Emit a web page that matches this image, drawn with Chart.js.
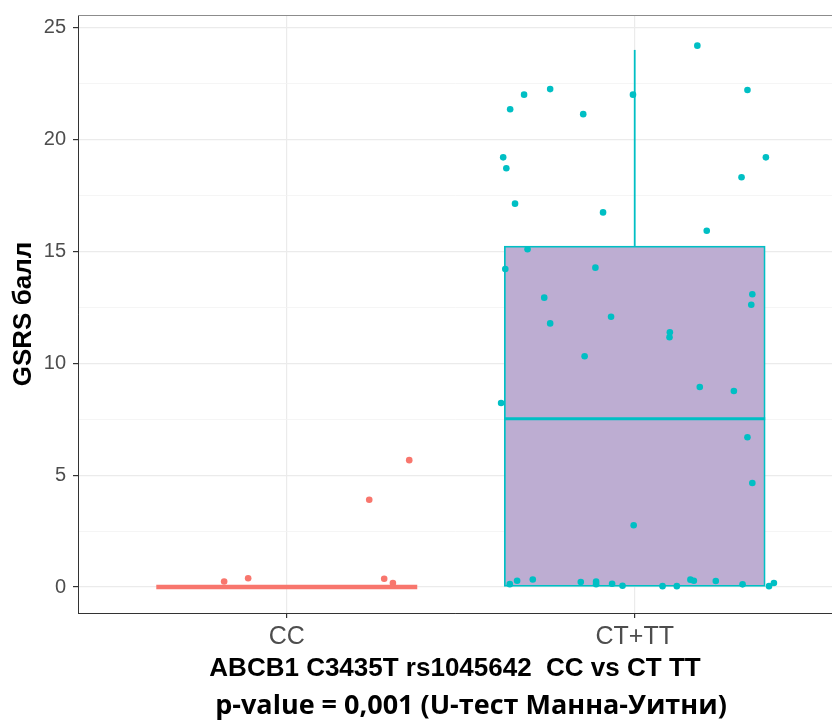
<!DOCTYPE html>
<html>
<head>
<meta charset="utf-8">
<script src="https://cdn.jsdelivr.net/npm/chart.js@4/dist/chart.umd.min.js"></script>
<style>
  html, body { margin: 0; padding: 0; background: #ffffff; overflow: hidden; }
  #wrap { width: 832px; height: 727px; }
</style>
</head>
<body>
<div id="wrap"><canvas id="c" width="832" height="727"></canvas></div>
<script>
// ---- data ----
const CATEGORIES = ['CC', 'CT+TT'];
const Y_TICKS = [0, 2.5, 5, 7.5, 10, 12.5, 15, 17.5, 20, 22.5, 25];
const Y_LABELS = ['0', '', '5', '', '10', '', '15', '', '20', '', '25'];

const Q1 = [0, 0];
const MEDIAN = [0, 7.52];
const Q3 = [0, 15.24];
const WHISKER_HI = [0, 24.0];

// jittered points, CC group
const CC_X = [0.820, 0.889, 1.237, 1.352, 1.280, 1.305];
const CC_Y = [0.25, 0.39, 3.90, 5.67, 0.37, 0.18];

// jittered points, CT+TT group
const CT_X = [2.180, 1.682, 1.757, 1.642, 1.852, 1.995, 2.324, 1.622, 1.631, 2.377,
              2.307, 1.656, 1.909, 2.207, 1.692, 1.628, 1.887, 1.740, 2.338, 2.335,
              1.932, 1.757, 2.101, 2.100, 1.856, 2.187, 2.285, 1.616, 2.324, 2.338,
              1.997, 1.641, 1.662, 1.707, 1.845, 1.889, 1.889, 1.935, 1.965, 2.080,
              2.121, 2.160, 2.170, 2.233, 2.310, 2.386, 2.400];
const CT_Y = [24.19, 22.00, 22.25, 21.35, 21.13, 22.00, 22.21, 19.20, 18.71, 19.20,
              18.31, 17.13, 16.74, 15.92, 15.09, 14.21, 14.27, 12.93, 13.08, 12.61,
              12.08, 11.78, 11.38, 11.16, 10.31, 8.94, 8.76, 8.22, 6.69, 4.65,
              2.76, 0.13, 0.28, 0.34, 0.22, 0.24, 0.13, 0.15, 0.06, 0.04,
              0.04, 0.33, 0.28, 0.27, 0.12, 0.04, 0.18];

// ---- styles ----
const COLORS = ['#F8766D', '#00BFC4'];
const BOX_FILL = '#BDADD2';
const BOX_HALF = 0.375;

const datasets = [];

datasets.push({
  type: 'scatter', label: 'CC points', order: 0,
  data: CC_X.map((x, i) => ({ x: x, y: CC_Y[i] })),
  backgroundColor: COLORS[0], borderWidth: 0, pointRadius: 3.3
});
datasets.push({
  type: 'scatter', label: 'CT points', order: 0,
  data: CT_X.map((x, i) => ({ x: x, y: CT_Y[i] })),
  backgroundColor: COLORS[1], borderWidth: 0, pointRadius: 3.3
});

CATEGORIES.forEach((c, i) => {
  const pos = i + 1;
  datasets.push({
    type: 'line', label: c + ' median', order: 1,
    data: [{ x: pos - BOX_HALF, y: MEDIAN[i] }, { x: pos + BOX_HALF, y: MEDIAN[i] }],
    borderColor: COLORS[i], borderWidth: (Q3[i] === Q1[i]) ? 4.5 : 3,
    pointRadius: 0, fill: false
  });
  if (WHISKER_HI[i] > Q3[i]) {
    datasets.push({
      type: 'line', label: c + ' whisker', order: 2,
      data: [{ x: pos, y: Q3[i] }, { x: pos, y: WHISKER_HI[i] }],
      borderColor: COLORS[i], borderWidth: 1.8, pointRadius: 0, fill: false
    });
  }
});

datasets.push({
  type: 'bar', label: 'box', order: 3,
  data: CATEGORIES.map((c, i) => ({ x: i + 1, y: [Q1[i], Q3[i]] })),
  backgroundColor: BOX_FILL,
  borderColor: COLORS,
  borderWidth: 1.8,
  borderSkipped: false,
  barThickness: 261
});

const extras = {
  id: 'extras',
  afterDraw(chart) {
    const ctx = chart.ctx;
    const a = chart.chartArea;
    ctx.save();
    ctx.strokeStyle = '#8C8C8C';
    ctx.lineWidth = 1;
    ctx.beginPath();
    ctx.moveTo(a.left, a.top + 0.5);
    ctx.lineTo(a.right, a.top + 0.5);
    ctx.stroke();
    ctx.fillStyle = '#000000';
    ctx.font = 'bold 27px "Open Sans"';
    ctx.textAlign = 'center';
    ctx.textBaseline = 'middle';
    ctx.fillText('p-value = 0,001 (U-тест Манна-Уитни)', 471, 706);
    ctx.restore();
  }
};

new Chart(document.getElementById('c'), {
  type: 'bar',
  data: { datasets: datasets },
  options: {
    responsive: false,
    animation: false,
    devicePixelRatio: 1,
    layout: { autoPadding: false, padding: { top: 15, bottom: 35, left: 0, right: 0 } },
    plugins: { legend: { display: false }, tooltip: { enabled: false }, title: { display: false } },
    scales: {
      x: {
        type: 'linear',
        offset: false,
        min: 0.4, max: 2.567,
        afterFit(scale) { scale.height = 79; scale.paddingLeft = 0; scale.paddingRight = 0; },
        afterBuildTicks(scale) { scale.ticks = CATEGORIES.map((c, i) => ({ value: i + 1 })); },
        ticks: {
          autoSkip: false, maxRotation: 0, minRotation: 0,
          color: '#4D4D4D', padding: 4,
          font: { family: '"Liberation Sans", Arial, sans-serif', size: 25 },
          callback: (v, idx) => CATEGORIES[idx]
        },
        grid: { offset: false, color: '#EBEBEB', lineWidth: 1.2, tickLength: 5, tickColor: '#333333', drawTicks: true },
        border: { display: true, color: '#333333', width: 1 },
        title: {
          display: true, text: 'ABCB1 C3435T rs1045642  CC vs CT TT', color: '#000000',
          font: { family: '"Liberation Sans", Arial, sans-serif', size: 26, weight: 'bold' },
          padding: { top: 0, bottom: 8 }
        }
      },
      y: {
        type: 'linear',
        min: -1.16, max: 25.56,
        afterFit(scale) { scale.width = 78; scale.paddingTop = 0; scale.paddingBottom = 0; },
        afterBuildTicks(scale) { scale.ticks = Y_TICKS.map(v => ({ value: v })); },
        ticks: {
          color: '#4D4D4D', padding: 7,
          font: { family: '"Liberation Sans", Arial, sans-serif', size: 20 },
          callback: (v, idx) => Y_LABELS[idx]
        },
        grid: {
          color: (c) => (c.tick && c.tick.value % 5 === 0) ? '#EBEBEB' : '#F3F3F3',
          lineWidth: (c) => (c.tick && c.tick.value % 5 === 0) ? 1.2 : 0.8,
          tickColor: (c) => (c.tick && c.tick.value % 5 === 0) ? '#333333' : 'rgba(0,0,0,0)',
          tickLength: 5, drawTicks: true
        },
        border: { display: true, color: '#333333', width: 1 },
        title: {
          display: true, text: 'GSRS балл', color: '#000000',
          font: { family: '"Liberation Sans", Arial, sans-serif', size: 26, weight: 'bold' },
          padding: { top: 8, bottom: 0 }
        }
      }
    }
  },
  plugins: [extras]
});
</script>
</body>
</html>
